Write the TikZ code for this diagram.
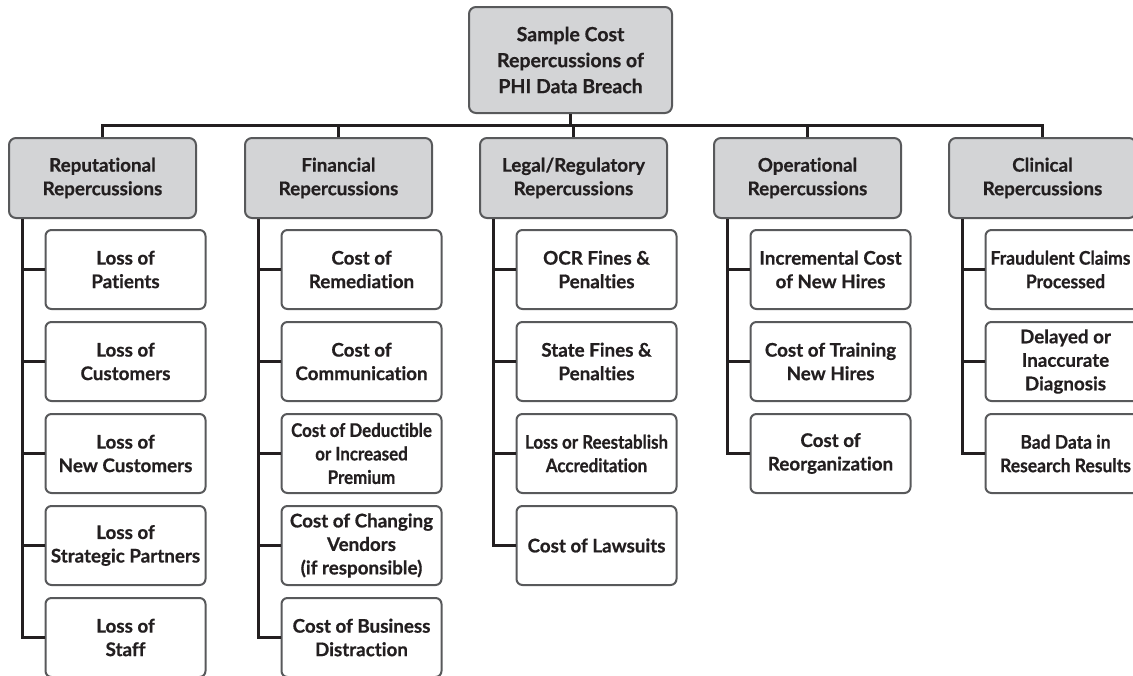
\documentclass[tikz,border=0pt]{standalone}
\usepackage{fontspec}
\setmainfont{Lato}[Ligatures=NoCommon, BoldFeatures={FakeBold=0.6}]
\usetikzlibrary{calc}
\definecolor{boxgray}{HTML}{D3D4D6}
\definecolor{edgegray}{HTML}{58595B}
\definecolor{ink}{HTML}{231F20}
\tikzset{
  basebox/.style={draw=edgegray, line width=2pt, rounded corners=7pt, align=center,
    text=ink, font=\bfseries\fontsize{18.8}{23.5}\selectfont, inner sep=2pt},
  rootbox/.style={basebox, fill=boxgray, minimum width=203pt, minimum height=106pt,
    font=\bfseries\fontsize{19.5}{26}\selectfont},
  catbox/.style={basebox, fill=boxgray, minimum width=187pt, minimum height=80pt},
  leafbox/.style={basebox, fill=white, minimum width=160pt, minimum height=79pt, rounded corners=6pt},
  cond/.style={font=\bfseries\fontsize{18.8}{23.5}\selectfont\addfontfeature{FakeStretch=0.9}},
  narrow/.style={font=\bfseries\fontsize{18.8}{23.5}\selectfont\addfontfeature{FakeStretch=0.93}},
  link/.style={draw=ink, line width=3pt},
}
\begin{document}
\begin{tikzpicture}[x=1pt, y=-1pt]
\useasboundingbox (0,0) rectangle (1133,675);
\clip (0,0) rectangle (1133,675);

% root and first level
\node[rootbox] (root) at (570.5,60) {Sample Cost\\Repercussions of\\PHI Data Breach};
\node[catbox] (rep) at (102.5,178) {Reputational\\Repercussions};
\node[catbox] (fin) at (338.5,178) {Financial\\Repercussions};
\node[catbox] (leg) at (573.5,178) {Legal/Regulatory\\Repercussions};
\node[catbox] (ope) at (807.5,178) {Operational\\Repercussions};
\node[catbox] (cli) at (1042.5,178) {Clinical\\Repercussions};

\coordinate (bus) at (0,125);
\draw[link] (rep.north) -- (rep.north |- bus) -- (cli.north |- bus) -- (cli.north);
\foreach \c in {fin,leg,ope} \draw[link] (\c.north) -- (\c.north |- bus);
\draw[link] (root.south) -- (root.south |- bus);

% reputational
\node[leafbox] (r1) at (125.5,269.5) {Loss of\\Patients};
\node[leafbox] (r2) at (125.5,361.5) {Loss of\\Customers};
\node[leafbox] (r3) at (125.5,453.5) {Loss of\\New Customers};
\node[leafbox] (r4) at (125.5,545.5) {Loss of\\Strategic Partners};
\node[leafbox] (r5) at (125.5,637.5) {Loss of\\Staff};

% financial
\node[leafbox] (f1) at (361.5,269.5) {Cost of\\Remediation};
\node[leafbox] (f2) at (361.5,361.5) {Cost of\\Communication};
\node[leafbox, cond] (f3) at (361.5,453.5) {Cost of Deductible\\or Increased\\Premium};
\node[leafbox] (f4) at (361.5,545.5) {Cost of Changing\\Vendors\\(if responsible)};
\node[leafbox] (f5) at (361.5,637.5) {Cost of Business\\Distraction};

% legal / regulatory
\node[leafbox] (l1) at (596.5,269.5) {OCR Fines \&\\Penalties};
\node[leafbox] (l2) at (596.5,361.5) {State Fines \&\\Penalties};
\node[leafbox, cond] (l3) at (596.5,453.5) {Loss or Reestablish\\Accreditation};
\node[leafbox] (l4) at (596.5,545.5) {Cost of Lawsuits};

% operational
\node[leafbox] (o1) at (830.5,269.5) {Incremental Cost\\of New Hires};
\node[leafbox] (o2) at (830.5,361.5) {Cost of Training\\New Hires};
\node[leafbox] (o3) at (830.5,453.5) {Cost of\\Reorganization};

% clinical (texts set a little narrower, left aligned to the box start)
\node[leafbox, narrow] (c1) at (1065.5,269.5) {\hspace*{-10pt}Fraudulent Claims\\Processed};
\node[leafbox] (c2) at (1065.5,361.5) {Delayed or\\Inaccurate\\Diagnosis};
\node[leafbox, narrow] (c3) at (1065.5,453.5) {Bad Data in\\Research Results};

% spines from each category to its items
\foreach \c/\list in {rep/{r1,r2,r3,r4,r5}, fin/{f1,f2,f3,f4,f5}, leg/{l1,l2,l3,l4}, ope/{o1,o2,o3}, cli/{c1,c2,c3}}{
  \foreach \k in \list
    \draw[link] ($(\c.south west)+(14,0)$) |- (\k.west);
}
\end{tikzpicture}
\end{document}
